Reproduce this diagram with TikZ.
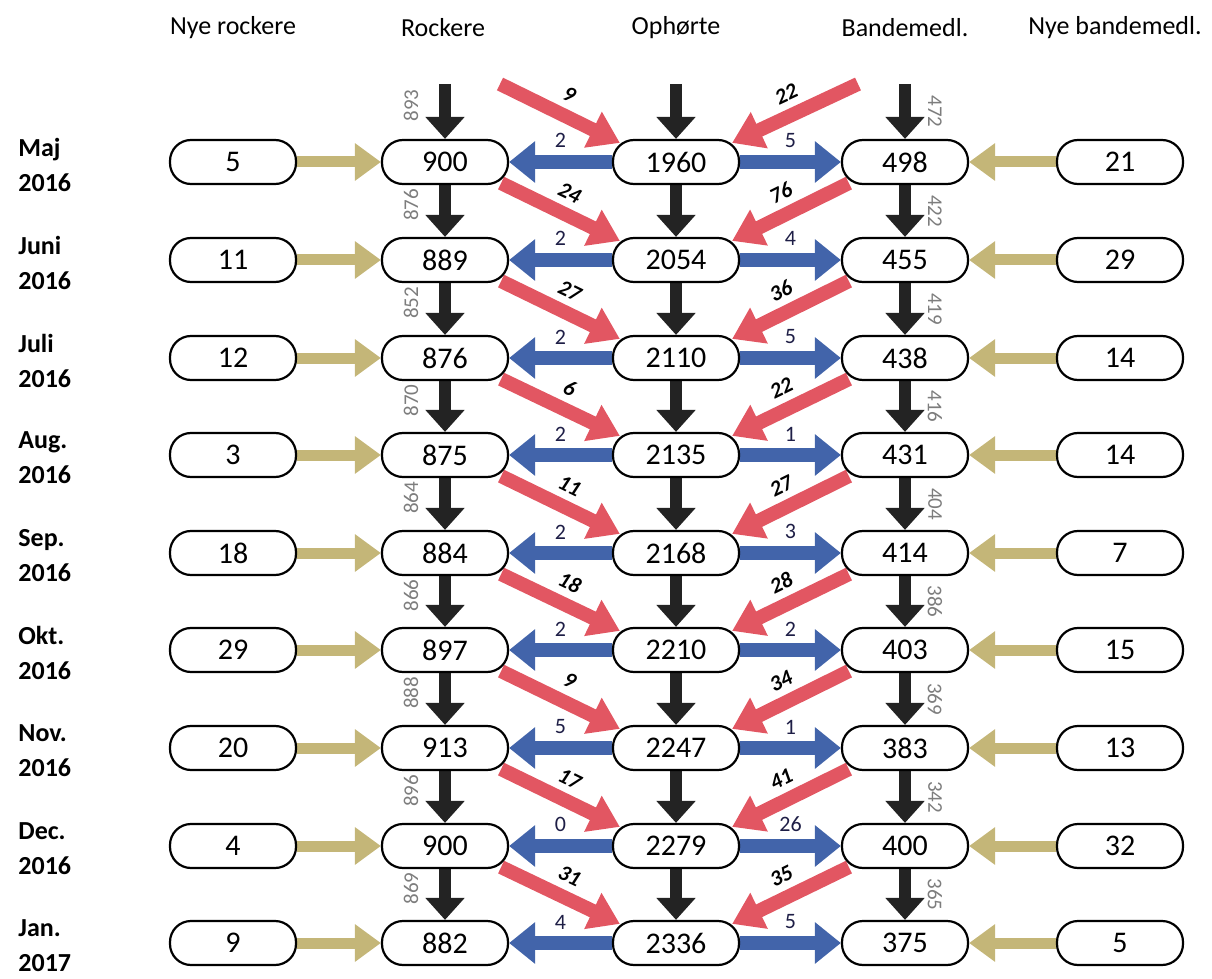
\documentclass[tikz,border=0pt]{standalone}
\usepackage{fontspec}
\setmainfont{Carlito}
\usetikzlibrary{arrows.meta,calc,backgrounds}

\definecolor{goldarr}{RGB}{196,182,120}
\definecolor{bluearr}{RGB}{66,100,170}
\definecolor{redarr}{RGB}{226,86,98}
\definecolor{blackarr}{RGB}{35,35,35}
\definecolor{graytxt}{RGB}{125,125,125}
\definecolor{navytxt}{RGB}{30,30,70}

\tikzset{
 box/.style={draw, line width=1.1pt, fill=white, rounded corners=10.5pt, minimum width=63pt, minimum height=22pt, inner sep=0pt, font=\fontsize{15}{18}\selectfont},
 head/.style={font=\fontsize{13}{15}\selectfont},
 month/.style={anchor=west, align=left, inner sep=0pt, font=\fontsize{13}{17.5}\selectfont\bfseries},
 goldarrow/.style={draw=goldarr, line width=5.5pt, -{Triangle[width=18pt,length=13pt]}},
 bluearrow/.style={draw=bluearr, line width=7pt, -{Triangle[width=20pt,length=13pt]}},
 blackarrow/.style={draw=blackarr, line width=6pt, -{Triangle[width=19pt,length=11pt]}},
 redarrow/.style={draw=redarr, line width=7pt, -{Triangle[width=19pt,length=15pt]}},
 bluelbl/.style={midway, above=3.5pt, inner sep=0pt, text=navytxt, font=\fontsize{11}{13}\selectfont},
 redlbl/.style={midway, sloped, above=3.5pt, inner sep=0pt, font=\fontsize{11}{13}\selectfont\bfseries\itshape},
 lgray/.style={midway, xshift=-17pt, yshift=3pt, rotate=90, inner sep=0pt, text=graytxt, font=\fontsize{10.5}{12}\selectfont},
 rgray/.style={midway, xshift=15pt, rotate=-90, inner sep=0pt, text=graytxt, font=\fontsize{10.5}{12}\selectfont}
}

\begin{document}
\begin{tikzpicture}[x=0.5pt,y=-0.5pt]
 \useasboundingbox (0,0) rectangle (1212,979);
 % column heads
 \node[head] (hnr) at (233,28) {Nye rockere};
 \node[head] (hr) at (443,28) {Rockere};
 \node[head] (ho) at (676,28) {Ophørte};
 \node[head] (hb) at (905,28) {Bandemedl.};
 \node[head] (hnb) at (1115,28) {Nye bandemedl.};
 % months
 \node[month] (m1) at (18,165) {Maj\\2016};
 \node[month] (m2) at (18,263) {Juni\\2016};
 \node[month] (m3) at (18,361) {Juli\\2016};
 \node[month] (m4) at (18,458) {Aug.\\2016};
 \node[month] (m5) at (18,556) {Sep.\\2016};
 \node[month] (m6) at (18,653) {Okt.\\2016};
 \node[month] (m7) at (18,751) {Nov.\\2016};
 \node[month] (m8) at (18,849) {Dec.\\2016};
 \node[month] (m9) at (18,946) {Jan.\\2017};
 % boxes
 \node[box] (nr1) at (233,162) {5};
 \node[box] (r1) at (445,162) {900};
 \node[box] (o1) at (676,162) {1960};
 \node[box] (b1) at (905,162) {498};
 \node[box] (nb1) at (1120,162) {21};
 \node[box] (nr2) at (233,260) {11};
 \node[box] (r2) at (445,260) {889};
 \node[box] (o2) at (676,260) {2054};
 \node[box] (b2) at (905,260) {455};
 \node[box] (nb2) at (1120,260) {29};
 \node[box] (nr3) at (233,358) {12};
 \node[box] (r3) at (445,358) {876};
 \node[box] (o3) at (676,358) {2110};
 \node[box] (b3) at (905,358) {438};
 \node[box] (nb3) at (1120,358) {14};
 \node[box] (nr4) at (233,455) {3};
 \node[box] (r4) at (445,455) {875};
 \node[box] (o4) at (676,455) {2135};
 \node[box] (b4) at (905,455) {431};
 \node[box] (nb4) at (1120,455) {14};
 \node[box] (nr5) at (233,553) {18};
 \node[box] (r5) at (445,553) {884};
 \node[box] (o5) at (676,553) {2168};
 \node[box] (b5) at (905,553) {414};
 \node[box] (nb5) at (1120,553) {7};
 \node[box] (nr6) at (233,650) {29};
 \node[box] (r6) at (445,650) {897};
 \node[box] (o6) at (676,650) {2210};
 \node[box] (b6) at (905,650) {403};
 \node[box] (nb6) at (1120,650) {15};
 \node[box] (nr7) at (233,748) {20};
 \node[box] (r7) at (445,748) {913};
 \node[box] (o7) at (676,748) {2247};
 \node[box] (b7) at (905,748) {383};
 \node[box] (nb7) at (1120,748) {13};
 \node[box] (nr8) at (233,846) {4};
 \node[box] (r8) at (445,846) {900};
 \node[box] (o8) at (676,846) {2279};
 \node[box] (b8) at (905,846) {400};
 \node[box] (nb8) at (1120,846) {32};
 \node[box] (nr9) at (233,943) {9};
 \node[box] (r9) at (445,943) {882};
 \node[box] (o9) at (676,943) {2336};
 \node[box] (b9) at (905,943) {375};
 \node[box] (nb9) at (1120,943) {5};
 % free ends at the top
 \coordinate (rt) at (445,84);
 \coordinate (ot) at (676,84);
 \coordinate (bt) at (905,84);
 \coordinate (redl) at (500,84);
 \coordinate (redr) at (858,84);

 \begin{pgfonlayer}{background}
 % new members
 \draw[goldarrow] (nr1) -- (r1);
 \draw[goldarrow] (nb1) -- (b1);
 \draw[goldarrow] (nr2) -- (r2);
 \draw[goldarrow] (nb2) -- (b2);
 \draw[goldarrow] (nr3) -- (r3);
 \draw[goldarrow] (nb3) -- (b3);
 \draw[goldarrow] (nr4) -- (r4);
 \draw[goldarrow] (nb4) -- (b4);
 \draw[goldarrow] (nr5) -- (r5);
 \draw[goldarrow] (nb5) -- (b5);
 \draw[goldarrow] (nr6) -- (r6);
 \draw[goldarrow] (nb6) -- (b6);
 \draw[goldarrow] (nr7) -- (r7);
 \draw[goldarrow] (nb7) -- (b7);
 \draw[goldarrow] (nr8) -- (r8);
 \draw[goldarrow] (nb8) -- (b8);
 \draw[goldarrow] (nr9) -- (r9);
 \draw[goldarrow] (nb9) -- (b9);
 % back from Ophørte
 \draw[bluearrow] (o1) -- (r1) node[bluelbl]{2};
 \draw[bluearrow] (o1) -- (b1) node[bluelbl]{5};
 \draw[bluearrow] (o2) -- (r2) node[bluelbl]{2};
 \draw[bluearrow] (o2) -- (b2) node[bluelbl]{4};
 \draw[bluearrow] (o3) -- (r3) node[bluelbl]{2};
 \draw[bluearrow] (o3) -- (b3) node[bluelbl]{5};
 \draw[bluearrow] (o4) -- (r4) node[bluelbl]{2};
 \draw[bluearrow] (o4) -- (b4) node[bluelbl]{1};
 \draw[bluearrow] (o5) -- (r5) node[bluelbl]{2};
 \draw[bluearrow] (o5) -- (b5) node[bluelbl]{3};
 \draw[bluearrow] (o6) -- (r6) node[bluelbl]{2};
 \draw[bluearrow] (o6) -- (b6) node[bluelbl]{2};
 \draw[bluearrow] (o7) -- (r7) node[bluelbl]{5};
 \draw[bluearrow] (o7) -- (b7) node[bluelbl]{1};
 \draw[bluearrow] (o8) -- (r8) node[bluelbl]{0};
 \draw[bluearrow] (o8) -- (b8) node[bluelbl]{26};
 \draw[bluearrow] (o9) -- (r9) node[bluelbl]{4};
 \draw[bluearrow] (o9) -- (b9) node[bluelbl]{5};
 % month to month
 \draw[blackarrow] (rt) -- (r1) node[lgray]{893};
 \draw[blackarrow] (ot) -- (o1);
 \draw[blackarrow] (bt) -- (b1) node[rgray]{472};
 \draw[blackarrow] (r1) -- (r2) node[lgray]{876};
 \draw[blackarrow] (o1) -- (o2);
 \draw[blackarrow] (b1) -- (b2) node[rgray]{422};
 \draw[blackarrow] (r2) -- (r3) node[lgray]{852};
 \draw[blackarrow] (o2) -- (o3);
 \draw[blackarrow] (b2) -- (b3) node[rgray]{419};
 \draw[blackarrow] (r3) -- (r4) node[lgray]{870};
 \draw[blackarrow] (o3) -- (o4);
 \draw[blackarrow] (b3) -- (b4) node[rgray]{416};
 \draw[blackarrow] (r4) -- (r5) node[lgray]{864};
 \draw[blackarrow] (o4) -- (o5);
 \draw[blackarrow] (b4) -- (b5) node[rgray]{404};
 \draw[blackarrow] (r5) -- (r6) node[lgray]{866};
 \draw[blackarrow] (o5) -- (o6);
 \draw[blackarrow] (b5) -- (b6) node[rgray]{386};
 \draw[blackarrow] (r6) -- (r7) node[lgray]{888};
 \draw[blackarrow] (o6) -- (o7);
 \draw[blackarrow] (b6) -- (b7) node[rgray]{369};
 \draw[blackarrow] (r7) -- (r8) node[lgray]{896};
 \draw[blackarrow] (o7) -- (o8);
 \draw[blackarrow] (b7) -- (b8) node[rgray]{342};
 \draw[blackarrow] (r8) -- (r9) node[lgray]{869};
 \draw[blackarrow] (o8) -- (o9);
 \draw[blackarrow] (b8) -- (b9) node[rgray]{365};
 % into Ophørte
 \draw[redarrow] (redl) -- ($(o1.north west)+(8,4)$) node[redlbl]{9};
 \draw[redarrow] (redr) -- ($(o1.north east)+(-8,4)$) node[redlbl]{22};
 \draw[redarrow] ($(r1.south east)+(-8,-2)$) -- ($(o2.north west)+(8,4)$) node[redlbl]{24};
 \draw[redarrow] ($(b1.south west)+(8,-2)$) -- ($(o2.north east)+(-8,4)$) node[redlbl]{76};
 \draw[redarrow] ($(r2.south east)+(-8,-2)$) -- ($(o3.north west)+(8,4)$) node[redlbl]{27};
 \draw[redarrow] ($(b2.south west)+(8,-2)$) -- ($(o3.north east)+(-8,4)$) node[redlbl]{36};
 \draw[redarrow] ($(r3.south east)+(-8,-2)$) -- ($(o4.north west)+(8,4)$) node[redlbl]{6};
 \draw[redarrow] ($(b3.south west)+(8,-2)$) -- ($(o4.north east)+(-8,4)$) node[redlbl]{22};
 \draw[redarrow] ($(r4.south east)+(-8,-2)$) -- ($(o5.north west)+(8,4)$) node[redlbl]{11};
 \draw[redarrow] ($(b4.south west)+(8,-2)$) -- ($(o5.north east)+(-8,4)$) node[redlbl]{27};
 \draw[redarrow] ($(r5.south east)+(-8,-2)$) -- ($(o6.north west)+(8,4)$) node[redlbl]{18};
 \draw[redarrow] ($(b5.south west)+(8,-2)$) -- ($(o6.north east)+(-8,4)$) node[redlbl]{28};
 \draw[redarrow] ($(r6.south east)+(-8,-2)$) -- ($(o7.north west)+(8,4)$) node[redlbl]{9};
 \draw[redarrow] ($(b6.south west)+(8,-2)$) -- ($(o7.north east)+(-8,4)$) node[redlbl]{34};
 \draw[redarrow] ($(r7.south east)+(-8,-2)$) -- ($(o8.north west)+(8,4)$) node[redlbl]{17};
 \draw[redarrow] ($(b7.south west)+(8,-2)$) -- ($(o8.north east)+(-8,4)$) node[redlbl]{41};
 \draw[redarrow] ($(r8.south east)+(-8,-2)$) -- ($(o9.north west)+(8,4)$) node[redlbl]{31};
 \draw[redarrow] ($(b8.south west)+(8,-2)$) -- ($(o9.north east)+(-8,4)$) node[redlbl]{35};
 \end{pgfonlayer}
\end{tikzpicture}
\end{document}
